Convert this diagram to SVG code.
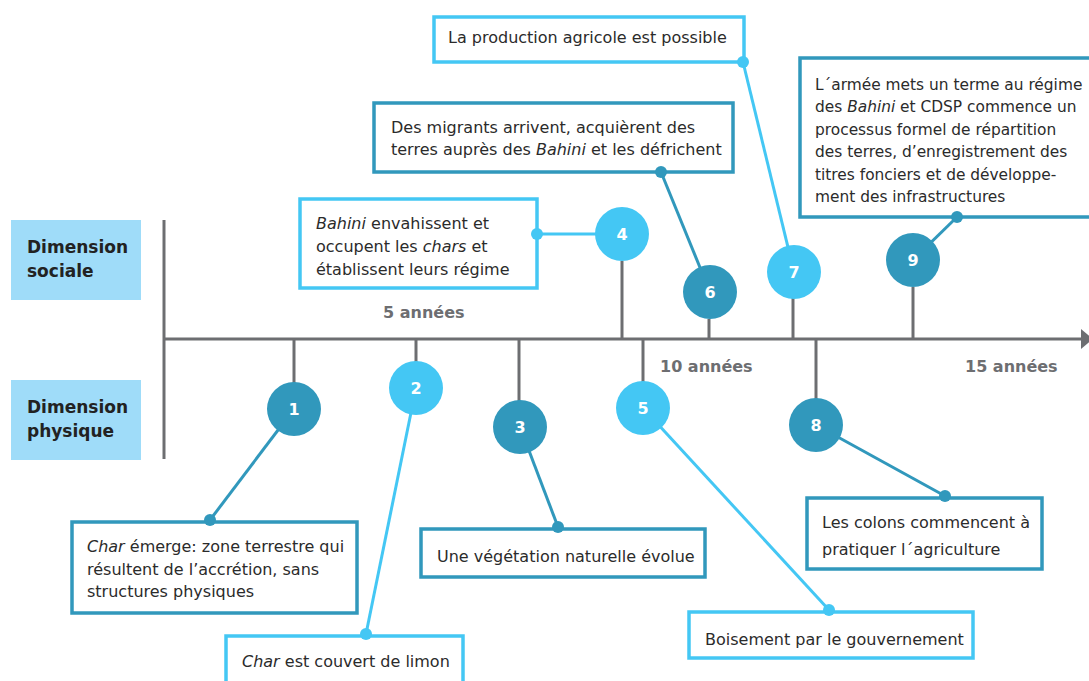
<svg xmlns="http://www.w3.org/2000/svg" width="1089" height="681" viewBox="0 0 1089 681">
<style>
.dim{fill:#9fdcf9}
.dimt{font-family:"DejaVu Sans",sans-serif;font-weight:700;font-size:17px;fill:#222}
.ax{stroke:#6d6e71;stroke-width:3;fill:none}
.yr{font-family:"DejaVu Sans",sans-serif;font-weight:700;font-size:16px;fill:#6d6e71}
.bd{fill:#fff;stroke:#3198bc;stroke-width:3.5}
.bl{fill:#fff;stroke:#44c7f4;stroke-width:3.5}
.t{font-family:"DejaVu Sans",sans-serif;font-size:16px;fill:#2b2b2b}
.s{font-size:15.4px}
.cd{fill:#3198bc}
.cl{fill:#44c7f4}
.n{font-family:"DejaVu Sans",sans-serif;font-weight:700;font-size:16px;fill:#fff;text-anchor:middle}
.ld{stroke:#3198bc;stroke-width:3;fill:none}
.ll{stroke:#44c7f4;stroke-width:3;fill:none}
.i{font-style:italic}
</style>
<rect width="1089" height="681" fill="#fff"/>
<g id="dim-sociale"><rect class="dim" x="11" y="220" width="130" height="80"/><text class="dimt" x="27" y="253">Dimension</text><text class="dimt" x="27" y="277">sociale</text></g>
<g id="dim-physique"><rect class="dim" x="11" y="380" width="130" height="80"/><text class="dimt" x="27" y="413">Dimension</text><text class="dimt" x="27" y="437">physique</text></g>
<g id="axes">
<line class="ax" x1="164" y1="220" x2="164" y2="459"/>
<line class="ax" x1="164" y1="339" x2="1083" y2="339"/>
<polygon points="1081,329 1093,339 1081,349" fill="#6d6e71"/>
<text class="yr" x="383" y="318">5 années</text>
<text class="yr" x="660" y="372">10 années</text>
<text class="yr" x="965" y="372">15 années</text>
</g>
<g id="connectors">
<line class="ax" x1="294" y1="339" x2="294" y2="383"/>
<line class="ax" x1="416" y1="339" x2="416" y2="362"/>
<line class="ax" x1="519" y1="339" x2="519" y2="401"/>
<line class="ax" x1="622" y1="261" x2="622" y2="339"/>
<line class="ax" x1="643" y1="339" x2="643" y2="382"/>
<line class="ax" x1="709" y1="319" x2="709" y2="339"/>
<line class="ax" x1="793" y1="298" x2="793" y2="339"/>
<line class="ax" x1="816" y1="339" x2="816" y2="399"/>
<line class="ax" x1="913" y1="287" x2="913" y2="339"/>
<line class="ld" x1="294" y1="409" x2="210" y2="520"/>
<line class="ll" x1="416" y1="388" x2="366" y2="634"/>
<line class="ld" x1="520" y1="427" x2="558" y2="527"/>
<line class="ll" x1="537" y1="234" x2="600" y2="234"/>
<line class="ll" x1="643" y1="408" x2="829" y2="610"/>
<line class="ld" x1="661" y1="172" x2="710" y2="292"/>
<line class="ll" x1="743" y1="62" x2="794" y2="272"/>
<line class="ld" x1="816" y1="425" x2="945" y2="496"/>
<line class="ld" x1="913" y1="260" x2="957" y2="217"/>
</g>
<g id="node1"><circle class="cd" cx="294" cy="409" r="27"/><text class="n" x="294" y="415">1</text></g>
<g id="node2"><circle class="cl" cx="416" cy="388" r="27"/><text class="n" x="416" y="394">2</text></g>
<g id="node3"><circle class="cd" cx="520" cy="427" r="27"/><text class="n" x="520" y="433">3</text></g>
<g id="node4"><circle class="cl" cx="622" cy="234" r="27"/><text class="n" x="622" y="240">4</text></g>
<g id="node5"><circle class="cl" cx="643" cy="408" r="27"/><text class="n" x="643" y="414">5</text></g>
<g id="node6"><circle class="cd" cx="710" cy="292" r="27"/><text class="n" x="710" y="298">6</text></g>
<g id="node7"><circle class="cl" cx="794" cy="272" r="27"/><text class="n" x="794" y="278">7</text></g>
<g id="node8"><circle class="cd" cx="816" cy="425" r="27"/><text class="n" x="816" y="431">8</text></g>
<g id="node9"><circle class="cd" cx="913" cy="260" r="27"/><text class="n" x="913" y="266">9</text></g>
<g id="box1"><rect class="bd" x="72" y="522" width="285" height="91"/><circle class="cd" cx="210" cy="520" r="6"/>
<text class="t" x="87" y="552"><tspan class="i">Char</tspan> émerge: zone terrestre qui</text>
<text class="t" x="87" y="575">résultent de l’accrétion, sans</text>
<text class="t" x="87" y="597">structures physiques</text></g>
<g id="box2"><rect class="bl" x="226" y="636" width="237" height="48"/><circle class="cl" cx="366" cy="634" r="6"/>
<text class="t" x="242" y="667"><tspan class="i">Char</tspan> est couvert de limon</text></g>
<g id="box3"><rect class="bd" x="421" y="529" width="284" height="48"/><circle class="cd" cx="558" cy="527" r="6"/>
<text class="t" x="437" y="562">Une végétation naturelle évolue</text></g>
<g id="box4"><rect class="bl" x="300" y="199" width="237" height="89"/><circle class="cl" cx="537" cy="234" r="6"/>
<text class="t" x="316" y="229"><tspan class="i">Bahini</tspan> envahissent et</text>
<text class="t" x="316" y="252">occupent les <tspan class="i">chars</tspan> et</text>
<text class="t" x="316" y="275">établissent leurs régime</text></g>
<g id="box5"><rect class="bl" x="689" y="612" width="284" height="46"/><circle class="cl" cx="829" cy="610" r="6"/>
<text class="t" x="705" y="645">Boisement par le gouvernement</text></g>
<g id="box6"><rect class="bd" x="374" y="103" width="359" height="69"/><circle class="cd" cx="661" cy="172" r="6"/>
<text class="t" x="391" y="133">Des migrants arrivent, acquièrent des</text>
<text class="t" x="391" y="155">terres auprès des <tspan class="i">Bahini</tspan> et les défrichent</text></g>
<g id="box7"><rect class="bl" x="434" y="17" width="310" height="45"/><circle class="cl" cx="743" cy="62" r="6"/>
<text class="t" x="448" y="43">La production agricole est possible</text></g>
<g id="box8"><rect class="bd" x="807" y="498" width="235" height="71"/><circle class="cd" cx="945" cy="496" r="6"/>
<text class="t" x="822" y="528">Les colons commencent à</text>
<text class="t" x="822" y="555">pratiquer l´agriculture</text></g>
<g id="box9"><rect class="bd" x="800" y="58" width="300" height="159"/><circle class="cd" cx="957" cy="217" r="6"/>
<text class="t s" x="815" y="90">L´armée mets un terme au régime</text>
<text class="t s" x="815" y="112">des <tspan class="i">Bahini</tspan> et CDSP commence un</text>
<text class="t s" x="815" y="135">processus formel de répartition</text>
<text class="t s" x="815" y="157">des terres, d’enregistrement des</text>
<text class="t s" x="815" y="180">titres fonciers et de développe-</text>
<text class="t s" x="815" y="202">ment des infrastructures</text></g>
</svg>
